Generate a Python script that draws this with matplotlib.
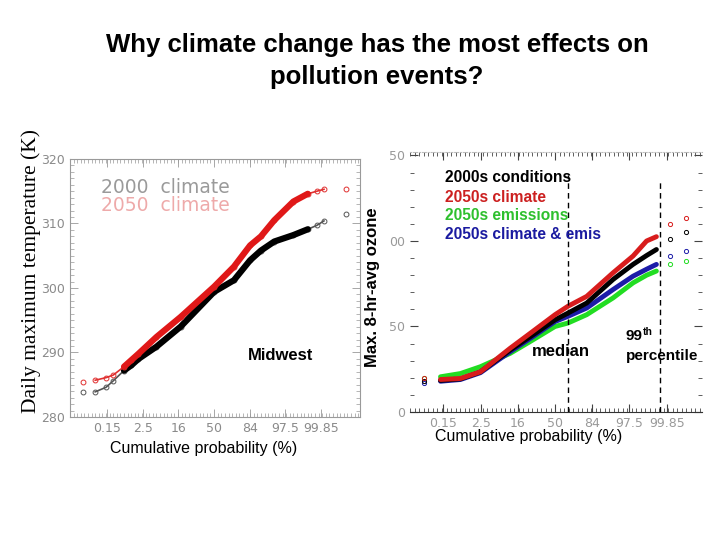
import numpy as np
import matplotlib
matplotlib.use("Agg")
import matplotlib.pyplot as plt
from matplotlib.ticker import MultipleLocator, FixedLocator

# eixo x em unidades de desvio padrao (escala de probabilidade normal)
prob_ticks = [-2.97, -1.96, -0.99, 0.0, 0.99, 1.96, 2.97]
prob_labels = ["0.15", "2.5", "16", "50", "84", "97.5", "99.85"]

# painel esquerdo: temperatura maxima diaria (K), Midwest
temp_z = [-3.65, -3.3, -3.0, -2.8, -2.5, -2.3, -2.1, -1.6, -0.93, 0.0, 0.55,
          1.0, 1.3, 1.67, 2.2, 2.6, 2.85, 3.05, 3.65]
temp_2050 = [285.4, 285.7, 286.1, 286.5, 287.8, 288.8, 289.8, 292.4, 295.5,
             300.2, 303.3, 306.6, 308.0, 310.5, 313.4, 314.6, 315.0, 315.3,
             315.4]
temp_2000 = [283.8, 283.9, 284.6, 285.6, 287.2, 288.0, 289.0, 290.9, 294.0,
             299.4, 301.2, 304.3, 305.8, 307.2, 308.2, 309.1, 309.7, 310.4,
             311.5]

# painel direito: ozonio (ppb)
ozone_z = [-3.49, -3.04, -2.51, -1.98, -1.19, -0.66, 0.0, 0.34, 0.84, 1.54,
           2.07, 2.43, 2.69, 3.04, 3.48]
oz_2000s = [18.2, 18.5, 19.4, 23.5, 36.3, 44.0, 53.9, 57.8, 63.7, 77.5, 86.3,
            91.5, 95.0, 101.0, 105.0]
oz_clim = [19.6, 19.0, 19.6, 23.5, 37.3, 46.0, 56.9, 61.8, 67.6, 81.4, 91.2,
           100.0, 102.5, 110.0, 113.7]
oz_emis = [19.6, 20.6, 22.5, 26.5, 34.3, 41.2, 50.0, 52.0, 56.9, 66.7, 75.5,
           80.0, 82.4, 86.3, 88.2]
oz_both = [17.0, 18.0, 19.0, 23.0, 35.3, 43.0, 52.9, 55.9, 60.8, 71.6, 79.4,
           83.5, 86.3, 91.0, 94.0]
ozone_ticks = [0, 50, 100, 150]
ozone_labels = ["0", "50", "00", "50"]

fig = plt.figure(figsize=(7.2, 5.4), dpi=100)

# ---------- painel esquerdo ----------
ax1 = fig.add_axes([0.0972, 0.2278, 0.4028, 0.4778])
tz = np.array(temp_z)
core = (tz > -2.6) & (tz < 2.7)
thin = (tz > -3.4) & (tz < 3.1)
for vals, c, cm in [(temp_2000, "black", "#555555"),
                    (temp_2050, "#e01818", "#e03030")]:
    v = np.array(vals)
    ax1.plot(tz[thin], v[thin], color=cm, lw=1.2, marker="o", mfc="none",
             mec=cm, ms=3.5, mew=0.7)
    ax1.plot(tz[core], v[core], color=c, lw=4.5, solid_capstyle="round")
    ax1.plot(tz[~thin], v[~thin], "o", mfc="none", mec=cm, ms=3.5, mew=0.7)
ax1.set_xlim(-4.0, 4.05)
ax1.set_ylim(280, 320)
ax1.xaxis.set_major_locator(FixedLocator(prob_ticks))
ax1.set_xticklabels(prob_labels)
ax1.xaxis.set_minor_locator(MultipleLocator(0.1))
ax1.yaxis.set_major_locator(MultipleLocator(10))
ax1.yaxis.set_minor_locator(MultipleLocator(1))
ax1.tick_params(which="both", direction="in", top=True, right=True,
                colors="#999999", labelcolor="#8a8a8a", labelsize=9)
ax1.tick_params(which="major", length=6, width=0.6)
ax1.tick_params(which="minor", length=3, width=0.5)
for s in ax1.spines.values():
    s.set_color("#9a9a9a")
    s.set_linewidth(0.8)
ax1.text(-3.15, 314.8, "2000  climate", color="#9a9a9a", fontsize=13.5)
ax1.text(-3.15, 312.0, "2050  climate", color="#eeaaaa", fontsize=13.5)
ax1.text(1.85, 289.6, "Midwest", fontsize=12, fontweight="bold",
         family="Liberation Sans", ha="center", va="center")

# ---------- painel direito ----------
ax2 = fig.add_axes([0.5694, 0.237, 0.4056, 0.4815])
oz = np.array(ozone_z)
core2 = (oz > -3.2) & (oz < 2.75)
series = [(oz_emis, "#22dd22"), (oz_both, "#1c1ca8"), (oz_2000s, "black"),
          (oz_clim, "#d81c1c")]
for vals, c in series:
    v = np.array(vals)
    ax2.plot(oz[core2], v[core2], color=c, lw=3.5, solid_capstyle="round")
    ax2.plot(oz[~core2], v[~core2], "o", mfc="none", mec=c, ms=3, mew=0.7)
ax2.axvline(0.34, ymax=0.91, color="black", ls=(0, (4, 3)), lw=1)
ax2.axvline(2.78, ymax=0.895, color="black", ls=(0, (4, 3)), lw=1)
ax2.set_xlim(-3.85, 3.9)
ax2.set_ylim(0, 152)
ax2.xaxis.set_major_locator(FixedLocator(prob_ticks))
ax2.set_xticklabels(prob_labels)
ax2.xaxis.set_minor_locator(MultipleLocator(0.12))
ax2.yaxis.set_major_locator(FixedLocator(ozone_ticks))
ax2.set_yticklabels(ozone_labels)
ax2.yaxis.set_minor_locator(MultipleLocator(10))
ax2.tick_params(which="both", direction="in", top=True, right=True,
                colors="#444444", labelcolor="#999999", labelsize=9)
ax2.tick_params(which="major", length=6, width=0.8)
ax2.tick_params(which="minor", length=3, width=0.6)
for side in ["left", "right"]:
    ax2.spines[side].set_visible(False)
ax2.spines["top"].set_linestyle(":")
ax2.spines["top"].set_color("#bbbbbb")
ax2.spines["bottom"].set_color("#333333")

leg_txt = ["2000s conditions", "2050s climate", "2050s emissions",
           "2050s climate & emis"]
leg_col = ["black", "#cc2020", "#2ec02e", "#1a1aa0"]
for i, (t, c) in enumerate(zip(leg_txt, leg_col)):
    fig.text(0.618, 1 - (178 + 19 * i) / 540, t, color=c, fontsize=11.2,
             fontweight="bold", family="Liberation Sans", va="center")

fig.text(561 / 720, 1 - 352 / 540, "median", fontsize=12, fontweight="bold",
         family="Liberation Sans", ha="center", va="center")
fig.text(626 / 720, 1 - 336 / 540, "99", fontsize=11, fontweight="bold",
         family="Liberation Sans", va="center")
fig.text(643 / 720, 1 - 332 / 540, "th", fontsize=7.5, fontweight="bold",
         family="Liberation Sans", va="center")
fig.text(626 / 720, 1 - 356 / 540, "percentile", fontsize=11,
         fontweight="bold", family="Liberation Sans", va="center")

# ---------- textos gerais ----------
fig.text(377 / 720, 1 - 61 / 540,
         "Why climate change has the most effects on\npollution events?",
         ha="center", va="center", fontsize=18.5, fontweight="bold",
         family="Liberation Sans", linespacing=1.4)
fig.text(31 / 720, 1 - 271 / 540, "Daily maximum temperature (K)",
         rotation=90, ha="center", va="center", fontsize=15.5,
         family="Liberation Serif")
fig.text(372 / 720, 1 - 287 / 540, "Max. 8-hr-avg ozone", rotation=90,
         ha="center", va="center", fontsize=12, fontweight="bold",
         family="Liberation Sans")
fig.text(204 / 720, 1 - 449 / 540, "Cumulative probability (%)",
         ha="center", va="center", fontsize=11.5, family="Liberation Sans")
fig.text(529 / 720, 1 - 437 / 540, "Cumulative probability (%)",
         ha="center", va="center", fontsize=11.5, family="Liberation Sans")

fig.savefig("out.png", dpi=100)
